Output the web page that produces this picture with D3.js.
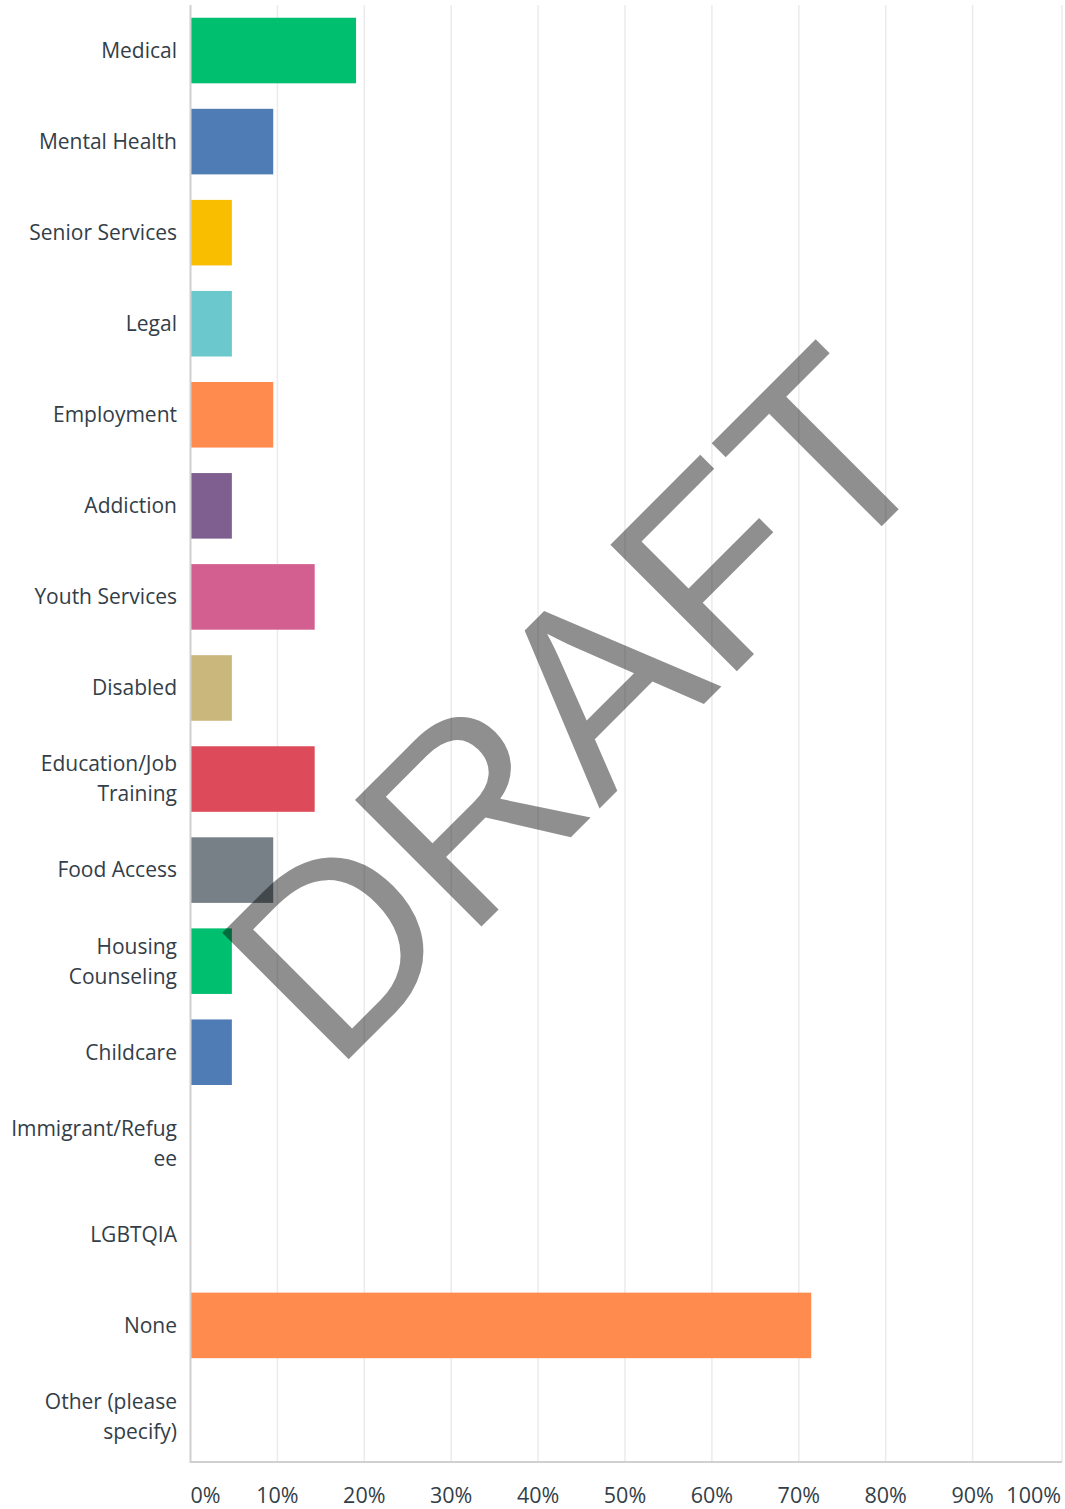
<!DOCTYPE html>
<html>
<head>
<meta charset="utf-8">
<script src="https://cdn.jsdelivr.net/npm/d3@7"></script>
<style>
  html, body { margin: 0; padding: 0; background: #ffffff; }
  svg { display: block; }
</style>
</head>
<body>
<svg id="chart" width="1065" height="1509"></svg>
<script>
// Survey responses: share of respondents selecting each service
const categories = [
  "Medical", "Mental Health", "Senior Services", "Legal", "Employment",
  "Addiction", "Youth Services", "Disabled", "Education/Job Training",
  "Food Access", "Housing Counseling", "Childcare", "Immigrant/Refugee",
  "LGBTQIA", "None", "Other (please specify)"
];
const percents = [
  19.05, 9.52, 4.76, 4.76, 9.52,
  4.76, 14.29, 4.76, 14.29,
  9.52, 4.76, 4.76, 0,
  0, 71.43, 0
];
const palette = [
  "#00bf6f", "#507cb6", "#f9be00", "#6bc8cd", "#ff8b4f",
  "#7f5f90", "#d25f90", "#c9b77b", "#dd4b5a", "#768086"
];
const tickValues = [0, 10, 20, 30, 40, 50, 60, 70, 80, 90, 100];
const tickLabels = ["0%", "10%", "20%", "30%", "40%", "50%", "60%", "70%", "80%", "90%", "100%"];
const watermark = "DRAFT";

const svg = d3.select("#chart");
const plotLeft = 190.5, plotRight = 1062, plotTop = 5, plotBottom = 1462;
const scaleEnd = 1059.5;
const fontFamily = "'Open Sans', 'Noto Sans', sans-serif";

const x = d3.scaleLinear().domain([0, 100]).range([plotLeft, scaleEnd]);
const y = d3.scaleBand().domain(categories).range([plotTop, plotBottom])
  .paddingInner(0.28).paddingOuter(0.14);

// vertical grid lines (the last one closes the plot frame on the right)
svg.append("g")
  .selectAll("line")
  .data(tickValues.slice(1))
  .join("line")
  .attr("x1", d => d === 100 ? plotRight : x(d))
  .attr("x2", d => d === 100 ? plotRight : x(d))
  .attr("y1", plotTop).attr("y2", plotBottom)
  .attr("stroke", "#ebebeb").attr("stroke-width", 1.5);

// bars
svg.append("g")
  .selectAll("rect")
  .data(categories)
  .join("rect")
  .attr("x", x(0))
  .attr("y", d => y(d))
  .attr("width", (d, i) => x(percents[i]) - x(0))
  .attr("height", y.bandwidth())
  .attr("fill", (d, i) => palette[i % palette.length]);

// axis lines
svg.append("line")
  .attr("x1", plotLeft).attr("x2", plotLeft).attr("y1", plotTop).attr("y2", plotBottom + 1)
  .attr("stroke", "#d0d0d0").attr("stroke-width", 2);
svg.append("line")
  .attr("x1", plotLeft).attr("x2", plotRight).attr("y1", plotBottom).attr("y2", plotBottom)
  .attr("stroke", "#d0d0d0").attr("stroke-width", 2);

// category labels, wrapped to fit the left margin
const labelX = 177, maxLabelWidth = 170, lineGap = 30;
const labelG = svg.append("g")
  .attr("font-family", fontFamily).attr("font-size", 21)
  .attr("fill", "#333e48").attr("text-anchor", "end");

function wrapLabel(text) {
  const probe = labelG.append("text");
  const fits = s => { probe.text(s); return probe.node().getComputedTextLength() <= maxLabelWidth; };
  const lines = [];
  let current = "";
  for (const word of text.split(" ")) {
    const trial = current ? current + " " + word : word;
    if (fits(trial)) { current = trial; continue; }
    if (current) lines.push(current);
    current = word;
    while (!fits(current)) {
      let k = current.length - 1;
      while (k > 1 && !fits(current.slice(0, k))) k--;
      lines.push(current.slice(0, k));
      current = current.slice(k);
    }
  }
  if (current) lines.push(current);
  probe.remove();
  return lines;
}

categories.forEach(cat => {
  const lines = wrapLabel(cat);
  const cy = y(cat) + y.bandwidth() / 2;
  const t = labelG.append("text").attr("y", cy - (lines.length - 1) * lineGap / 2);
  lines.forEach((ln, j) => {
    t.append("tspan").attr("x", labelX).attr("dy", j === 0 ? "0.35em" : lineGap).text(ln);
  });
});

// x tick labels: first left-aligned, last right-aligned, others centred
svg.append("g")
  .attr("font-family", fontFamily).attr("font-size", 21.5).attr("fill", "#333e48")
  .selectAll("text")
  .data(tickValues)
  .join("text")
  .attr("x", (d, i) => i === 0 ? x(d) : (i === tickValues.length - 1 ? plotRight - 1 : x(d)))
  .attr("y", 1503)
  .attr("text-anchor", (d, i) => i === 0 ? "start" : (i === tickValues.length - 1 ? "end" : "middle"))
  .text((d, i) => tickLabels[i]);

// diagonal watermark
svg.append("text")
  .attr("transform", "translate(640,768) rotate(-45)")
  .attr("text-anchor", "middle")
  .attr("font-family", "'Liberation Sans', Arial, sans-serif")
  .attr("font-size", 260)
  .attr("fill", "rgba(0,0,0,0.44)")
  .text(watermark);
</script>
</body>
</html>
